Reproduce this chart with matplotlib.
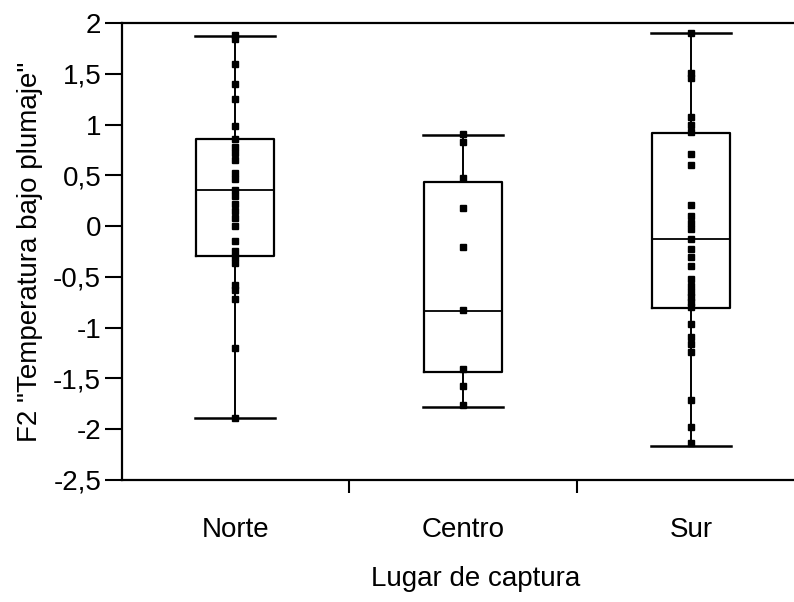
import numpy as np
import matplotlib
matplotlib.use('Agg')
import matplotlib.pyplot as plt

plt.rcParams['font.family'] = ['Liberation Sans', 'DejaVu Sans']

lugares = ['Norte', 'Centro', 'Sur']

# box stats: lower whisker, q1, median, q3, upper whisker
whislo = [-1.89, -1.78, -2.17]
q1 = [-0.29, -1.44, -0.81]
med = [0.355, -0.84, -0.13]
q3 = [0.86, 0.43, 0.92]
whishi = [1.87, 0.90, 1.90]

# individual values (approximate)
norte = [1.88, 1.84, 1.60, 1.40, 1.25, 0.99, 0.86, 0.78, 0.72, 0.65, 0.52, 0.46,
         0.36, 0.30, 0.22, 0.15, 0.08, 0.0, -0.15, -0.25, -0.30, -0.36, -0.58,
         -0.63, -0.72, -1.20, -1.89]
centro = [0.91, 0.83, 0.47, 0.18, -0.21, -0.83, -1.41, -1.57, -1.76]
sur = [1.90, 1.51, 1.46, 1.07, 1.00, 0.93, 0.71, 0.60, 0.21, 0.10, 0.03, -0.03,
       -0.13, -0.23, -0.30, -0.39, -0.52, -0.59, -0.65, -0.70, -0.75, -0.80,
       -0.96, -1.09, -1.16, -1.24, -1.71, -1.98, -2.14]

yticks = [2, 1.5, 1, 0.5, 0, -0.5, -1, -1.5, -2, -2.5]

fig = plt.figure(figsize=(7.94, 6.02), dpi=100)
# axes runs past the right edge like in the scanned original
ax = fig.add_axes([0.1537, 0.2027, 0.8917, 0.7591])

stats = []
for i in range(3):
    stats.append({'whislo': whislo[i], 'q1': q1[i], 'med': med[i],
                  'q3': q3[i], 'whishi': whishi[i], 'fliers': []})

ax.bxp(stats, positions=[0, 1, 2], widths=0.34, capwidths=0.35,
       showfliers=False,
       boxprops=dict(color='black', linewidth=1.6),
       medianprops=dict(color='black', linewidth=1.3),
       whiskerprops=dict(color='black', linewidth=1.4),
       capprops=dict(color='black', linewidth=1.8))

for i, vals in enumerate([norte, centro, sur]):
    ax.plot(np.full(len(vals), i), vals, 's', color='black', ms=4.5, zorder=3)

ax.set_xlim(-0.496, 2.61)
ax.set_ylim(-2.5, 2)

ax.set_yticks(yticks)
ax.set_yticklabels([str(t).replace('.', ',') if t % 1 else str(int(t)) for t in yticks],
                   fontsize=20)
ax.tick_params(axis='y', length=12, width=1.5, pad=3)

ax.set_xticks([0.5, 1.5])
ax.set_xticklabels([])
ax.set_xticks([0, 1, 2], minor=True)
ax.set_xticklabels(lugares, minor=True, fontsize=20)
ax.tick_params(axis='x', which='major', length=9, width=1.5)
ax.tick_params(axis='x', which='minor', length=0, pad=27)

ax.spines['right'].set_visible(False)
for s in ['left', 'top', 'bottom']:
    ax.spines[s].set_linewidth(1.6)

ax.set_ylabel('F2 "Temperatura bajo plumaje"', fontsize=20, labelpad=7)
ax.set_xlabel('Lugar de captura', fontsize=20, labelpad=16)

fig.savefig('out.png', dpi=100)
